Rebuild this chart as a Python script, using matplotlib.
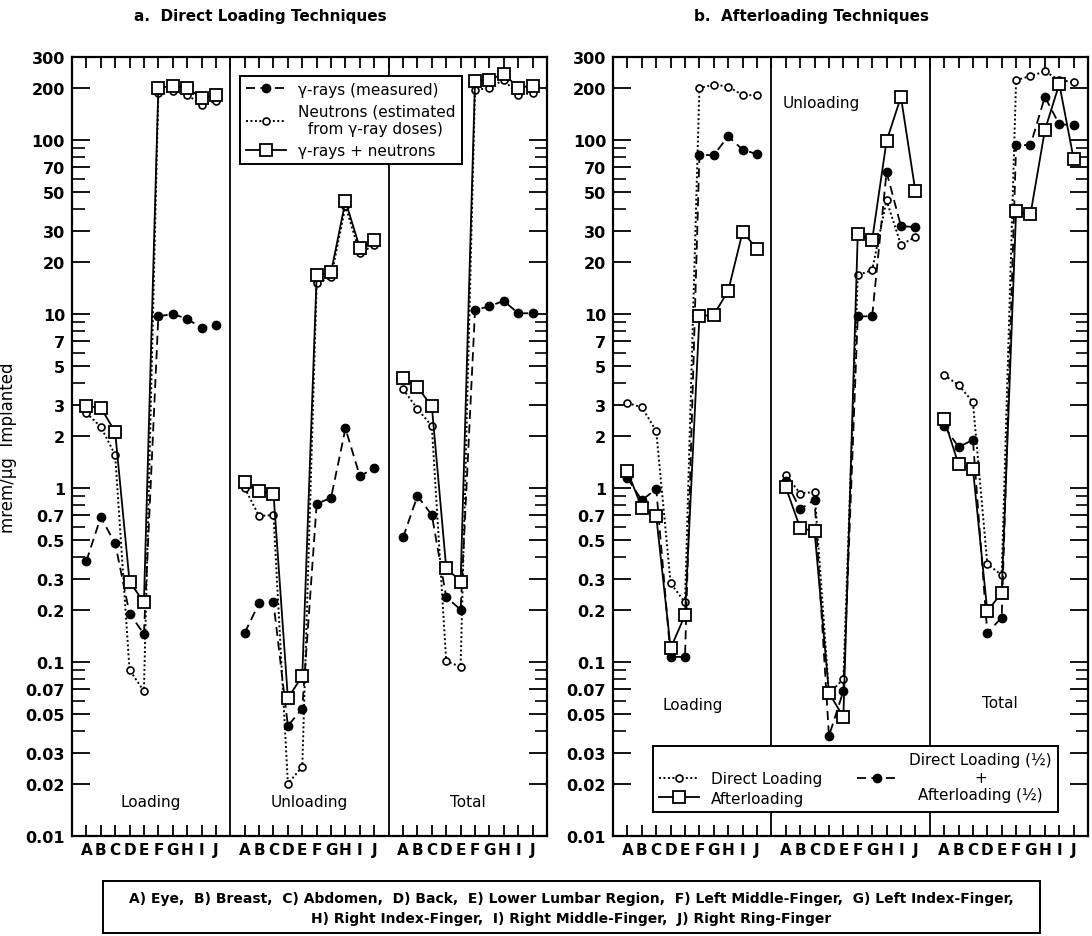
import matplotlib
matplotlib.use("Agg")
import matplotlib.pyplot as plt
from matplotlib.lines import Line2D
from matplotlib.patches import Rectangle

plt.rcParams['font.family'] = ['DejaVu Sans']

# points A..J in every section
points = ['A', 'B', 'C', 'D', 'E', 'F', 'G', 'H', 'I', 'J']

# a. Direct loading techniques (mrem/ug implanted)
load_gamma = [0.38, 0.68, 0.48, 0.19, 0.145, 9.7, 10.0, 9.4, 8.3, 8.7]
load_neut = [2.7, 2.25, 1.55, 0.09, 0.068, 186, 191, 182, 159, 167]
load_sum = [2.95, 2.9, 2.1, 0.29, 0.22, 199, 205, 200, 174, 181]
unload_gamma = [0.147, 0.218, 0.22, 0.043, 0.054, 0.81, 0.88, 2.2, 1.17, 1.3]
unload_neut = [1.0, 0.69, 0.70, 0.020, 0.025, 15.0, 16.3, 41.7, 22.4, 24.9]
unload_sum = [1.08, 0.96, 0.93, 0.062, 0.083, 16.7, 17.4, 44.6, 24.0, 26.6]
total_gamma = [0.52, 0.90, 0.70, 0.236, 0.20, 10.5, 11.1, 11.9, 10.1, 10.1]
total_neut = [3.7, 2.85, 2.27, 0.101, 0.094, 194, 199, 222, 182, 186]
total_sum = [4.3, 3.8, 2.95, 0.347, 0.29, 218, 222, 240, 200, 205]

# b. Afterloading techniques
direct_load = [3.08, 2.91, 2.13, 0.284, 0.22, 199, 208, 203, 181, 181]
comb_load = [1.14, 0.85, 0.99, 0.107, 0.107, 82, 82, 105, 88, 83]
after_load = [1.25, 0.77, 0.69, 0.12, 0.186, 9.7, 9.9, 13.6, 29.6, 23.7]
direct_unload = [1.19, 0.93, 0.95, 0.0655, 0.08, 16.7, 17.9, 45, 25, 27.7]
comb_unload = [1.10, 0.757, 0.853, 0.0376, 0.068, 9.7, 9.7, 65.5, 32, 31.6]
after_unload = [1.01, 0.589, 0.565, 0.0665, 0.0483, 28.8, 26.6, 98.6, 177, 51]
direct_total = [4.46, 3.91, 3.12, 0.366, 0.316, 221, 233, 248, 221, 215]
comb_total = [2.27, 1.72, 1.89, 0.147, 0.18, 93.5, 93.5, 177, 123, 122]
after_total = [2.49, 1.37, 1.29, 0.196, 0.25, 39, 37.5, 114, 210, 77.8]

ytick_labeled = [0.01, 0.02, 0.03, 0.05, 0.07, 0.1, 0.2, 0.3, 0.5, 0.7,
                 1, 2, 3, 5, 7, 10, 20, 30, 50, 70, 100, 200, 300]
ytick_minor = [0.04, 0.06, 0.08, 0.09, 0.4, 0.6, 0.8, 0.9, 4, 6, 8, 9,
               40, 60, 80, 90]

legend_a = ['γ-rays (measured)', 'Neutrons (estimated\n  from γ-ray doses)',
            'γ-rays + neutrons']
legend_b = ['Direct Loading', 'Afterloading',
            'Direct Loading (½)\n+\nAfterloading (½)']

# line styles
dash_st = dict(color='black', ls=(0, (5, 3)), lw=1.3, marker='o', ms=6,
               mfc='black', mec='black')
dot_st = dict(color='black', ls=(0, (1, 1.3)), lw=1.4, marker='o', ms=5,
              mfc='white', mec='black', mew=1.2)
solid_st = dict(color='black', ls='-', lw=1.3, marker='s', ms=8,
                mfc='white', mec='black', mew=1.3)


def xpos(section):
    return [11 * section + 1 + i for i in range(len(points))]


def setup_axes(ax):
    ax.set_yscale('log')
    ax.set_ylim(0.01, 300)
    ax.set_xlim(0, 33)
    ax.set_yticks(ytick_labeled)
    ax.set_yticklabels([('%g' % v) for v in ytick_labeled])
    ax.set_yticks(ytick_minor, minor=True)
    ax.yaxis.set_minor_formatter(plt.NullFormatter())
    ticks = xpos(0) + xpos(1) + xpos(2)
    ax.set_xticks(ticks)
    ax.set_xticklabels(points * 3)
    ax.set_xticks([11, 22], minor=True)
    ax.tick_params(axis='y', which='major', direction='in', length=13,
                   width=1.3, right=True, labelsize=11.5, pad=5)
    ax.tick_params(axis='y', which='minor', direction='in', length=9,
                   width=1.2, right=True)
    ax.tick_params(axis='x', direction='in', length=8, width=1.3, top=True,
                   labelsize=11, pad=4)
    ax.tick_params(axis='x', which='minor', direction='in', length=8,
                   width=1.3, top=True, bottom=False)
    for lab in ax.get_xticklabels() + ax.get_yticklabels():
        lab.set_fontweight('bold')
    for sp in ax.spines.values():
        sp.set_linewidth(1.6)
    for d in (11, 22):
        ax.axvline(d, color='black', lw=1.3, zorder=1)


fig = plt.figure(figsize=(10.92, 9.37), dpi=100)
ax_a = fig.add_axes([0.0659, 0.1067, 0.435, 0.8314])
ax_b = fig.add_axes([0.5614, 0.1067, 0.435, 0.8314])
setup_axes(ax_a)
setup_axes(ax_b)

# panel a
for k, (g, n, s) in enumerate([(load_gamma, load_neut, load_sum),
                               (unload_gamma, unload_neut, unload_sum),
                               (total_gamma, total_neut, total_sum)]):
    x = xpos(k)
    ax_a.plot(x, g, zorder=3, **dash_st)
    ax_a.plot(x, n, zorder=3, **dot_st)
    ax_a.plot(x, s, zorder=4, **solid_st)

# panel b
for k, (d, c, a) in enumerate([(direct_load, comb_load, after_load),
                               (direct_unload, comb_unload, after_unload),
                               (direct_total, comb_total, after_total)]):
    x = xpos(k)
    ax_b.plot(x, d, zorder=3, **dot_st)
    ax_b.plot(x, c, zorder=3, **dash_st)
    ax_b.plot(x, a, zorder=4, **solid_st)

ax_a.set_ylabel('mrem/μg  Implanted', fontsize=12, labelpad=6)

# section names
for xc, name in [(5.5, 'Loading'), (16.5, 'Unloading'), (27.5, 'Total')]:
    ax_a.text(xc, 0.044, name, transform=ax_a.get_xaxis_transform(),
              ha='center', va='center', fontsize=11)
ax_b.text(5.5, 0.169, 'Loading', transform=ax_b.get_xaxis_transform(),
          ha='center', va='center', fontsize=11)
ax_b.text(11.8, 0.942, 'Unloading', transform=ax_b.get_xaxis_transform(),
          ha='left', va='center', fontsize=11)
ax_b.text(26.9, 0.172, 'Total', transform=ax_b.get_xaxis_transform(),
          ha='center', va='center', fontsize=11)

# legends
h_a = [Line2D([], [], **dash_st), Line2D([], [], **dot_st),
       Line2D([], [], **solid_st)]
leg = ax_a.legend(h_a, legend_a, loc='upper left',
                  bbox_to_anchor=(0.354, 0.976), borderaxespad=0,
                  fancybox=False, edgecolor='black', framealpha=1,
                  fontsize=11, handlelength=2.6, labelspacing=0.45)
leg.get_frame().set_linewidth(1.4)
leg.set_zorder(10)

h_b = [Line2D([], [], **dot_st), Line2D([], [], **solid_st),
       Line2D([], [], **dash_st)]
leg = ax_b.legend(h_b, legend_b, loc='lower left', ncol=2,
                  bbox_to_anchor=(0.084, 0.031, 0.853, 0.083), mode='expand',
                  borderaxespad=0, fancybox=False, edgecolor='black',
                  framealpha=1, fontsize=11, handlelength=2.6,
                  labelspacing=0.3, columnspacing=1.0)
leg.get_frame().set_linewidth(1.4)
leg.set_zorder(10)
for t in leg.get_texts():
    t.set_multialignment('center')

# titles
fig.text(260 / 1092, 1 - 17 / 937, 'a.  Direct Loading Techniques',
         ha='center', va='center', fontsize=11, fontweight='bold')
fig.text(811 / 1092, 1 - 17 / 937, 'b.  Afterloading Techniques',
         ha='center', va='center', fontsize=11, fontweight='bold')

# key box at the bottom
fig.patches.append(Rectangle((103 / 1092, 0.003), 937 / 1092, 0.056,
                             transform=fig.transFigure, fill=False,
                             edgecolor='black', lw=1.4))
fig.text(571 / 1092, 1 - 909 / 937,
         'A) Eye,  B) Breast,  C) Abdomen,  D) Back,  E) Lower Lumbar Region,  '
         'F) Left Middle-Finger,  G) Left Index-Finger,\n'
         'H) Right Index-Finger,  I) Right Middle-Finger,  J) Right Ring-Finger',
         ha='center', va='center', fontsize=10, fontweight='bold',
         linespacing=1.5)

fig.savefig('out.png', dpi=100)
